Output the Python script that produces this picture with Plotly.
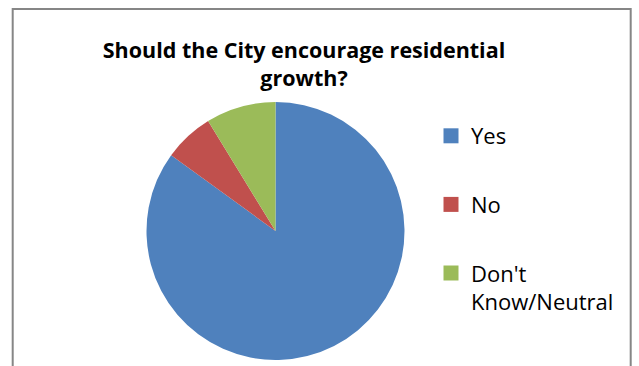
import plotly.graph_objects as go

categories = ["Yes", "No", "Don't<br>Know/Neutral"]
values = [136, 10, 14]
colors = ["#4F81BD", "#C0504D", "#9BBB59"]
title_text = "Should the City encourage residential<br>growth?"

W, H = 639, 366
FONT = "'Open Sans', Lato, Arial, sans-serif"

fig = go.Figure()
fig.add_trace(go.Pie(
    labels=categories, values=values, sort=False, direction="clockwise",
    rotation=0, textinfo="none", showlegend=False,
    marker=dict(colors=colors, line=dict(width=0)),
    domain=dict(x=[146.5 / W, 404.5 / W], y=[(H - 360) / H, (H - 102) / H]),
))
# legend entries (one group each so the gap between them can be set)
for lab, col in zip(categories, colors):
    fig.add_trace(go.Scatter(
        x=[None], y=[None], mode="markers", name=lab, legendgroup=lab,
        marker=dict(symbol="square", size=15, color=col),
        hoverinfo="skip",
    ))

fig.update_layout(
    width=W, height=H,
    margin=dict(l=0, r=0, t=0, b=0),
    paper_bgcolor="white", plot_bgcolor="white",
    xaxis=dict(visible=False), yaxis=dict(visible=False),
    title=dict(text=title_text, x=304 / W, xanchor="center", y=1 - 58 / H, yanchor="top",
               font=dict(family=FONT, size=21.5, color="black", weight="bold")),
    legend=dict(x=431 / W, xanchor="left", y=1 - 115 / H, yanchor="top",
                traceorder="grouped", tracegroupgap=37, valign="top",
                font=dict(family=FONT, size=22, color="black"),
                bgcolor="rgba(0,0,0,0)"),
    shapes=[dict(type="rect", xref="paper", yref="paper",
                 x0=12.7 / W, x1=630.7 / W, y0=-0.05, y1=1 - 9 / H,
                 line=dict(color="#868686", width=2), fillcolor="rgba(0,0,0,0)")],
)

fig.write_html("out.html", config={"displayModeBar": False},
               post_script="document.body.style.margin='0';")
